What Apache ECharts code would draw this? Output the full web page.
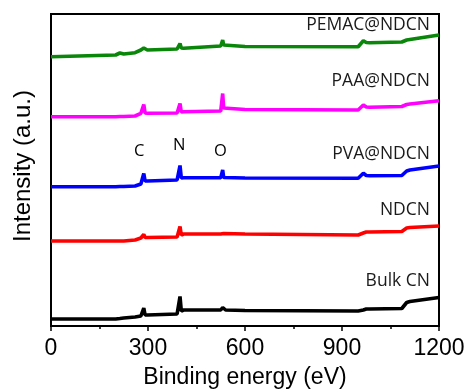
<!DOCTYPE html>
<html><head><meta charset="utf-8">
<script src="https://cdn.jsdelivr.net/npm/echarts@6/dist/echarts.min.js"></script>
<style>html,body{margin:0;padding:0;background:#fff}#c{width:466px;height:392px}</style>
</head><body><div id="c"></div>
<script>
// Binding energy grid (eV)
const energy = [0,200,213,225,260,278,283,287,291,298,390,395,399,403,410,525,528,531,534,540,600,950,966,975,985,1085,1100,1110,1200];
// Intensities (a.u., stacked offsets)
const bulkCN = [7,7,7.5,8,9,10,10.5,18,11,11,12,13,29.5,15,16,16,16.5,18.5,16.5,16,15.5,15,16,17,17,17.5,23.5,24.5,28.5];
const ndcn   = [85,85,85,85,86,88,88.5,91.5,88.5,88.5,89,90,99.5,91,92,92,92.5,94,92.5,92,92,91,93,94,94,94.5,98,98.5,100];
const pva    = [139.3,139.3,139.5,139.5,140,142,143,152.5,145,145,146,147,160.5,148,148.3,148.3,148.5,156,148.5,148.3,148,147.7,152.7,150.5,150.3,150.5,155,156,160];
const paa    = [209.3,209.3,209.5,209.5,210,212.7,213,221.5,213,212.7,213,213.5,222.5,214,214.3,215,216,232.5,218,217.7,216.5,216,221,219,218.7,219.5,221.5,222,225.3];
const pemac  = [269.3,271,273,272,273.3,276,276.5,278,276.5,276,277,277.5,282.5,278,277.7,280,281,286,281,280,279.5,279.3,285.3,283.5,283.3,284,286,286.5,291];
const seriesNames = ['Bulk CN','NDCN','PVA@NDCN','PAA@NDCN','PEMAC@NDCN'];
const seriesColors = ['#000000','#ff0000','#0000ff','#ff00ff','#0a860a'];
const seriesData = [bulkCN, ndcn, pva, paa, pemac];
const xTicks = [0,300,600,900,1200];
const peakLabels = ['C','N','O'];

const chart = echarts.init(document.getElementById('c'));
const pair = arr => energy.map((e,i)=>[e,arr[i]]);
const lblFont = '17.5px "Open Sans"';
chart.setOption({
  animation:false,
  grid:{left:51,right:27,top:14,bottom:66,outerBoundsMode:'none',containLabel:false,show:true,borderColor:'#000',borderWidth:2,backgroundColor:'transparent'},
  xAxis:{type:'value',min:xTicks[0],max:xTicks[xTicks.length-1],interval:300,
    name:'Binding energy (eV)',nameLocation:'middle',nameGap:40,
    nameTextStyle:{fontFamily:'Liberation Sans',fontSize:23,color:'#000'},
    axisLine:{lineStyle:{color:'#000',width:2}},
    axisTick:{show:true,length:5,lineStyle:{color:'#000',width:1.5}},
    minorTick:{show:true,splitNumber:2,length:3,lineStyle:{color:'#000',width:1.5}},
    splitLine:{show:false},
    axisLabel:{fontFamily:'Liberation Sans',fontSize:23,color:'#000',margin:11,formatter:v=>String(v)}},
  yAxis:{type:'value',min:0,max:312,
    name:'Intensity (a.u.)',nameLocation:'middle',nameGap:16,
    nameTextStyle:{fontFamily:'Liberation Sans',fontSize:24,color:'#000',padding:[0,0,0,8]},
    axisLine:{show:true,lineStyle:{color:'#000',width:2}},
    axisTick:{show:false},axisLabel:{show:false},splitLine:{show:false}},
  series:seriesData.map((d,i)=>({type:'line',name:seriesNames[i],data:pair(d),showSymbol:false,
    lineStyle:{color:seriesColors[i],width:3.6},itemStyle:{color:seriesColors[i]}})),
  graphic:[
    {type:'text',right:36,top:16,style:{text:seriesNames[4],font:lblFont,fill:'#1a1a1a'}},
    {type:'text',right:36,top:72,style:{text:seriesNames[3],font:lblFont,fill:'#1a1a1a'}},
    {type:'text',right:36,top:145,style:{text:seriesNames[2],font:lblFont,fill:'#1a1a1a'}},
    {type:'text',right:36,top:201,style:{text:seriesNames[1],font:lblFont,fill:'#1a1a1a'}},
    {type:'text',right:36,top:272,style:{text:seriesNames[0],font:lblFont,fill:'#1a1a1a'}},
    {type:'text',left:134,top:143,style:{text:peakLabels[0],font:'16.5px "Open Sans"',fill:'#000'}},
    {type:'text',left:173,top:137,style:{text:peakLabels[1],font:'16.5px "Open Sans"',fill:'#000'}},
    {type:'text',left:214,top:143,style:{text:peakLabels[2],font:'16.5px "Open Sans"',fill:'#000'}}
  ]
});
</script></body></html>
